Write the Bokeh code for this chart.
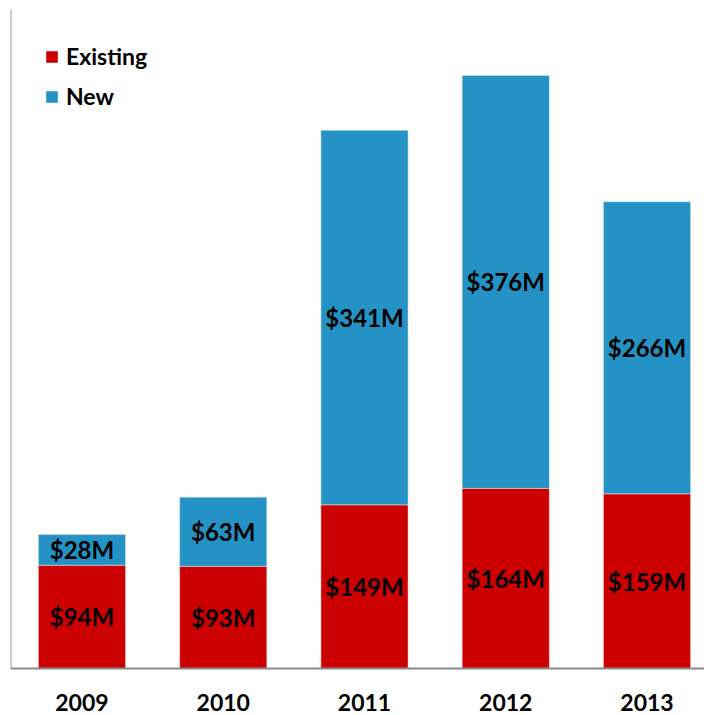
from bokeh.plotting import figure
from bokeh.models import Range1d, FixedTicker, Legend, LegendItem, ColumnDataSource
from bokeh.core.properties import value
from bokeh.embed import file_html
from bokeh.resources import INLINE

years = ["2009", "2010", "2011", "2012", "2013"]
existing = [94, 93, 149, 164, 159]
new = [28, 63, 341, 376, 266]

RED = "#CC0000"
BLUE = "#2492C4"
FONT = "Lato"

x = list(range(len(years)))
src = ColumnDataSource(dict(
    x=x,
    existing=existing,
    new=new,
    ex_mid=[e / 2 for e in existing],
    new_mid=[e + n / 2 for e, n in zip(existing, new)],
    ex_lbl=["$%dM" % e for e in existing],
    new_lbl=["$%dM" % n for n in new],
))

X0, X1 = -0.506, 4.407
p = figure(width=704, height=715, output_backend="svg", toolbar_location=None,
           x_range=Range1d(X0, X1), y_range=Range1d(-42.8, 600),
           min_border_left=10, min_border_right=0, min_border_top=9, min_border_bottom=0)
p.outline_line_color = None
p.xgrid.visible = False
p.ygrid.visible = False

rs = p.vbar_stack(["existing", "new"], x="x", width=0.617, source=src,
                  color=[RED, BLUE], line_color="#e8e8e8", line_alpha=0.5, line_width=1)

p.text(x="x", y="ex_mid", text="ex_lbl", source=src, text_font=value(FONT),
       text_font_style="bold", text_font_size="24px", text_align="center",
       text_baseline="middle", text_color="black")
p.text(x="x", y="new_mid", text="new_lbl", source=src, text_font=value(FONT),
       text_font_style="bold", text_font_size="24px", text_align="center",
       text_baseline="middle", text_color="black")

# axes
p.xaxis.fixed_location = 0
p.xaxis.ticker = FixedTicker(ticks=x)
p.xaxis.major_label_overrides = {i: y for i, y in enumerate(years)}
p.xaxis.major_tick_line_color = None
p.xaxis.minor_tick_line_color = None
p.xaxis.major_tick_out = 0
p.xaxis.major_label_standoff = 26
p.xaxis.major_label_text_font = FONT
p.xaxis.major_label_text_font_style = "bold"
p.xaxis.major_label_text_font_size = "23px"
p.xaxis.major_label_text_color = "black"
p.xaxis.axis_line_color = "#8a8a8a"
p.xaxis.axis_line_width = 2

p.yaxis.fixed_location = X0
p.yaxis.ticker = FixedTicker(ticks=[])
p.yaxis.major_tick_line_color = None
p.yaxis.minor_tick_line_color = None
p.yaxis.major_tick_out = 0
p.yaxis.major_label_text_font_size = "0px"
p.yaxis.major_label_standoff = 0
p.yaxis.axis_line_color = "#9a9a9a"
p.yaxis.axis_line_width = 2
p.yaxis.bounds = (0, 600)

legend = Legend(items=[LegendItem(label="Existing", renderers=[rs[0]]),
                       LegendItem(label="New", renderers=[rs[1]])],
                location=(34, 605), orientation="vertical")
legend.glyph_width = 15
legend.glyph_height = 15
legend.label_height = 15
legend.spacing = 12
legend.padding = 0
legend.margin = 0
legend.label_standoff = 7
legend.label_text_font = FONT
legend.label_text_font_style = "bold"
legend.label_text_font_size = "23px"
legend.label_text_color = "black"
legend.border_line_color = None
legend.background_fill_alpha = 0
p.add_layout(legend)

open("out.html", "w").write(file_html(p, INLINE))
